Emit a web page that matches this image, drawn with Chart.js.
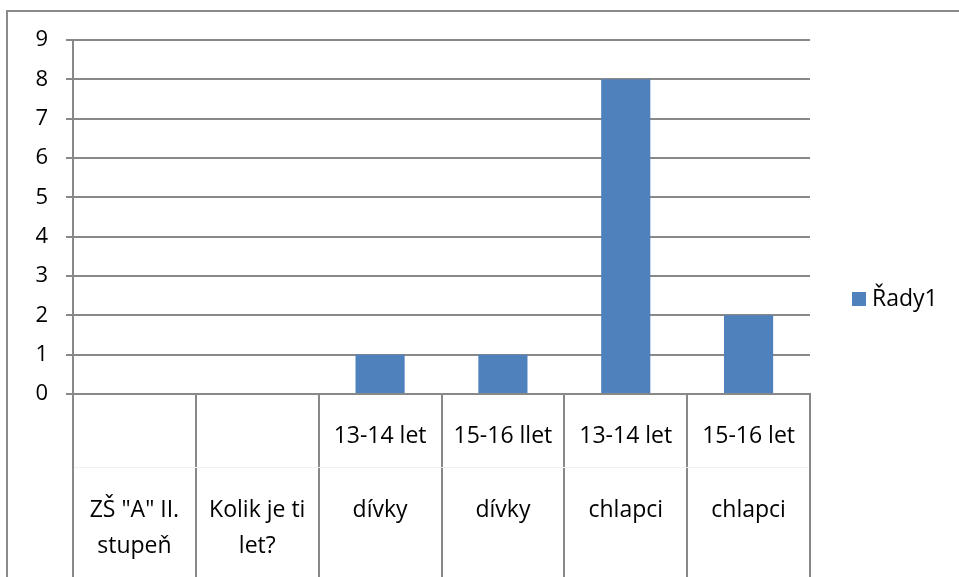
<!DOCTYPE html>
<html>
<head>
<meta charset="utf-8">
<script src="https://cdn.jsdelivr.net/npm/chart.js@4.4.1/dist/chart.umd.min.js"></script>
<style>
  html, body { margin: 0; padding: 0; background: #fff; }
  #wrap { position: relative; width: 959px; height: 577px; overflow: hidden; }
  canvas { display: block; }
</style>
</head>
<body>
<div id="wrap"><canvas id="c" width="959" height="577"></canvas></div>
<script>
// ---- data ----
const ageGroups   = ['', '', '13-14 let', '15-16 llet', '13-14 let', '15-16 let'];
const groupLabels = [['ZŠ "A" II.', 'stupeň'], ['Kolik je ti', 'let?'], ['dívky'], ['dívky'], ['chlapci'], ['chlapci']];
const seriesName  = 'Řady1';
const values      = [null, null, 1, 1, 8, 2];
const yTicks      = [0, 1, 2, 3, 4, 5, 6, 7, 8, 9];

const labels = ageGroups.map((a, i) => [a, ''].concat(groupLabels[i]));

const FONT = '"Open Sans", "Noto Sans", sans-serif';
const GRID = '#888888';

const framePlugin = {
  id: 'frame',
  beforeDraw(chart) {
    const ctx = chart.ctx;
    ctx.save();
    ctx.fillStyle = '#ffffff';
    ctx.fillRect(0, 0, chart.width, chart.height);
    ctx.strokeStyle = '#8a8a8a';
    ctx.lineWidth = 2;
    ctx.strokeRect(7, 11, chart.width + 20, chart.height + 20);
    ctx.restore();
  },
  afterDraw(chart) {
    const ctx = chart.ctx;
    const xs = chart.scales.x;
    const area = chart.chartArea;
    // faint row separator inside category table
    ctx.save();
    ctx.strokeStyle = '#f0f0f0';
    ctx.lineWidth = 1;
    ctx.beginPath();
    ctx.moveTo(area.left + 1, 467.5);
    ctx.lineTo(area.right - 1, 467.5);
    ctx.stroke();
    // legend
    const ds = chart.data.datasets[0];
    ctx.fillStyle = ds.backgroundColor;
    ctx.fillRect(852, 292, 14, 14);
    ctx.fillStyle = '#000';
    ctx.font = '23px ' + FONT;
    ctx.textBaseline = 'middle';
    ctx.textAlign = 'left';
    ctx.fillText(ds.label, 872, 299);
    ctx.restore();
  }
};

new Chart(document.getElementById('c'), {
  type: 'bar',
  data: {
    labels: labels,
    datasets: [{
      label: seriesName,
      data: values,
      backgroundColor: '#4f81bd',
      borderWidth: 0,
      categoryPercentage: 1.0,
      barPercentage: 0.4
    }]
  },
  options: {
    responsive: false,
    animation: false,
    layout: { padding: { left: 10, top: 40, right: 149, bottom: 0 } },
    plugins: {
      legend: { display: false },
      tooltip: { enabled: false }
    },
    scales: {
      x: {
        offset: true,
        grid: {
          display: true,
          offset: true,
          drawOnChartArea: false,
          drawTicks: true,
          tickLength: 183,
          color: GRID,
          lineWidth: 2
        },
        border: { display: true, color: GRID, width: 2 },
        ticks: {
          autoSkip: false,
          maxRotation: 0,
          minRotation: 0,
          padding: -159,
          color: '#000',
          font: { family: FONT, size: 23, lineHeight: 1.6 }
        },
        afterFit(scale) { scale.height = 183; }
      },
      y: {
        min: 0,
        max: 9,
        afterBuildTicks(scale) { scale.ticks = yTicks.map(v => ({ value: v })); },
        grid: {
          color: GRID,
          lineWidth: 2,
          tickLength: 7,
          drawTicks: true
        },
        border: { display: true, color: GRID, width: 2 },
        ticks: {
          padding: 18,
          color: '#000',
          font: { family: FONT, size: 22 }
        },
        afterFit(scale) { scale.width = 63; }
      }
    }
  },
  plugins: [framePlugin]
});
</script>
</body>
</html>
